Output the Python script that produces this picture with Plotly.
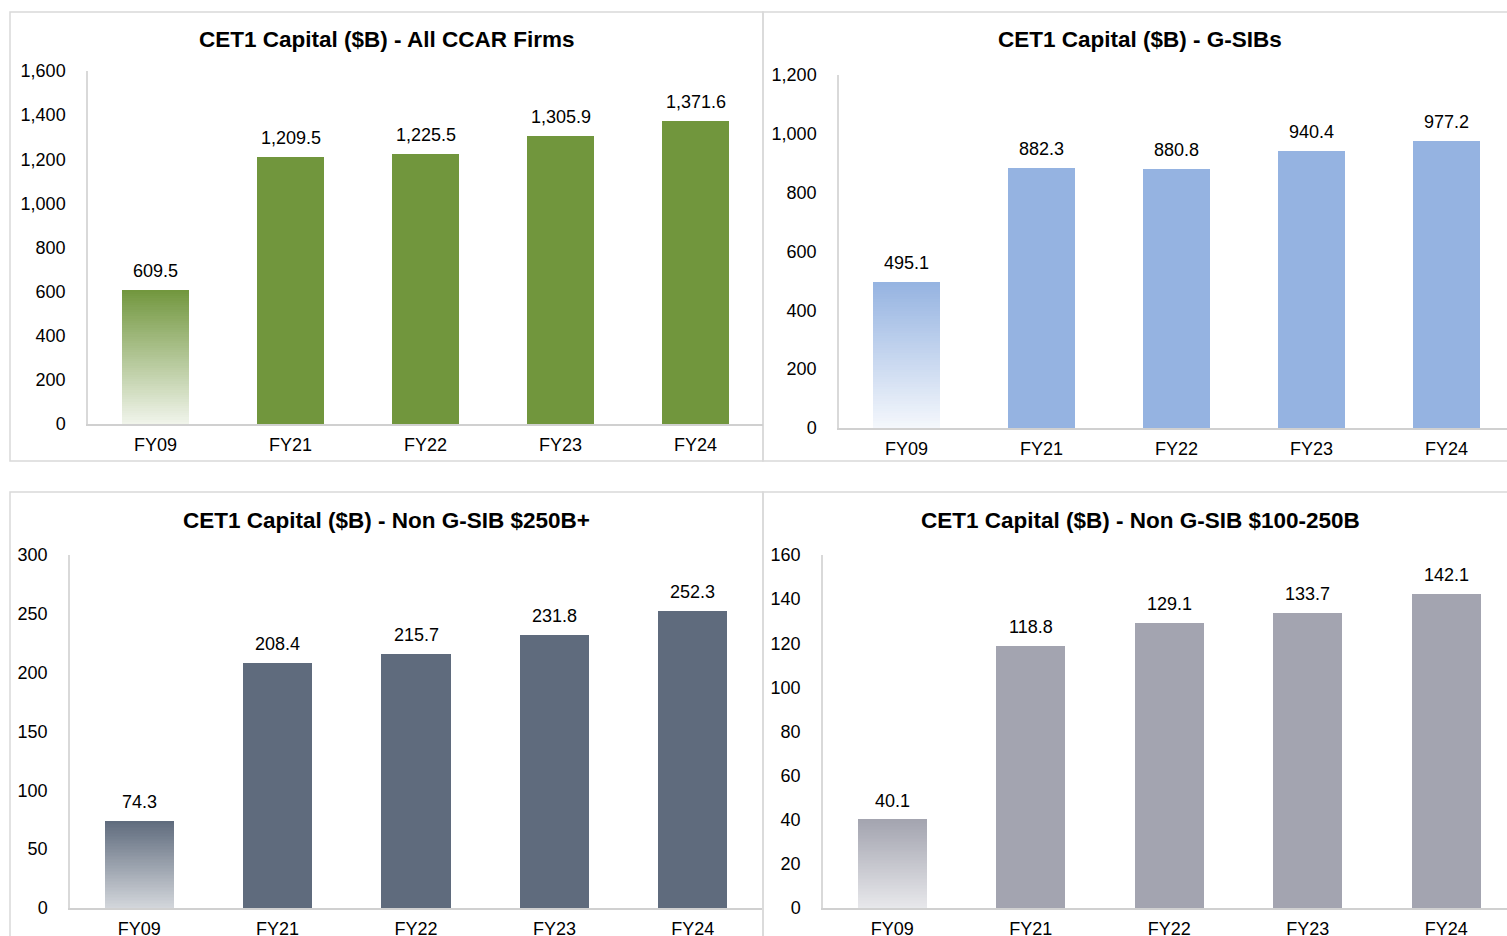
import plotly.graph_objects as go

W, H = 1507, 936

categories = ["FY09", "FY21", "FY22", "FY23", "FY24"]
all_ccar = [609.5, 1209.5, 1225.5, 1305.9, 1371.6]
gsibs = [495.1, 882.3, 880.8, 940.4, 977.2]
non_gsib_250 = [74.3, 208.4, 215.7, 231.8, 252.3]
non_gsib_100_250 = [40.1, 118.8, 129.1, 133.7, 142.1]

titles = [
    "CET1 Capital ($B) - All CCAR Firms",
    "CET1 Capital ($B) - G-SIBs",
    "CET1 Capital ($B) - Non G-SIB $250B+",
    "CET1 Capital ($B) - Non G-SIB $100-250B",
]
series = [all_ccar, gsibs, non_gsib_250, non_gsib_100_250]
y_max = [1600, 1200, 300, 160]
y_dtick = [200, 200, 50, 20]

colors = [(113, 150, 61), (149, 179, 225), (95, 107, 125), (163, 164, 176)]
bottom_mix = [0.10, 0.10, 0.27, 0.25]

# layout geometry in pixels
panels = [
    dict(left=88, right=763, top=71, bottom=424, band=135.0, box=(10, 12, 763, 461), tx=386, ty=40),
    dict(left=839, right=1507, top=75, bottom=428, band=135.0, box=(763, 12, 1520, 461), tx=1140, ty=40),
    dict(left=70, right=762, top=555, bottom=908, band=138.4, box=(10, 492, 763, 960), tx=386, ty=520),
    dict(left=823, right=1507, top=555, bottom=908, band=138.5, box=(763, 492, 1520, 960), tx=1140, ty=520),
]

FONT = "Liberation Sans, Arial, sans-serif"
N_SEG = 60


def px_x(v):
    return v / W


def px_y(v):
    return 1 - v / H


def rgb(c):
    return "rgb(%d,%d,%d)" % c


def mix(c, f):
    return tuple(round(255 - f * (255 - ch)) for ch in c)


fig = go.Figure()
annotations = []
shapes = []
layout_axes = {}

for i, (vals, p) in enumerate(zip(series, panels)):
    n = i + 1
    xa = "x" if n == 1 else "x%d" % n
    ya = "y" if n == 1 else "y%d" % n
    col = colors[i]

    # gradient first bar built from stacked slices of its value
    seg = vals[0] / N_SEG
    for k in range(N_SEG):
        t = (k + 0.5) / N_SEG  # 0 bottom -> 1 top
        f = bottom_mix[i] + (1 - bottom_mix[i]) * t
        fig.add_trace(go.Bar(
            x=[categories[0]], y=[seg], width=0.5,
            marker=dict(color=rgb(mix(col, f)), line=dict(width=0)),
            xaxis=xa, yaxis=ya, showlegend=False, hoverinfo="skip",
        ))
    # solid bars
    fig.add_trace(go.Bar(
        x=categories[1:], y=vals[1:], width=0.5,
        marker=dict(color=rgb(col), line=dict(width=0)),
        xaxis=xa, yaxis=ya, showlegend=False,
    ))

    # data labels
    for c, v in zip(categories, vals):
        annotations.append(dict(
            x=c, y=v, xref=xa, yref=ya, text=f"{v:,.1f}", showarrow=False,
            yanchor="bottom", yshift=7, font=dict(family=FONT, size=18, color="#000000"),
        ))

    # title
    annotations.append(dict(
        x=px_x(p["tx"]), y=px_y(p["ty"]), xref="paper", yref="paper",
        text="<b>%s</b>" % titles[i], showarrow=False, xanchor="center", yanchor="middle",
        font=dict(family=FONT, size=22.5, color="#000000"),
    ))

    # panel frame
    x0, y0, x1, y1 = p["box"]
    shapes.append(dict(
        type="rect", xref="paper", yref="paper",
        x0=px_x(x0), x1=px_x(x1), y0=px_y(y1), y1=px_y(y0),
        line=dict(color="#d9d9d9", width=1.5), fillcolor="rgba(0,0,0,0)", layer="below",
    ))

    xr_hi = -0.5 + (p["right"] - p["left"]) / p["band"]
    layout_axes["xaxis" if n == 1 else "xaxis%d" % n] = dict(
        domain=[px_x(p["left"]), px_x(p["right"])],
        anchor=ya, type="category", range=[-0.5, xr_hi], automargin=False,
        showline=True, linecolor="#d0d0d0", linewidth=1.5,
        showgrid=False, zeroline=False, ticks="", ticklabelstandoff=4,
        tickfont=dict(family=FONT, size=18, color="#000000"), fixedrange=True,
    )
    layout_axes["yaxis" if n == 1 else "yaxis%d" % n] = dict(
        domain=[px_y(p["bottom"]), px_y(p["top"])],
        anchor=xa, range=[0, y_max[i]], dtick=y_dtick[i], tick0=0, automargin=False,
        tickformat=",", showline=True, linecolor="#d9d9d9", linewidth=1.5,
        showgrid=False, zeroline=False, ticks="", ticklabelstandoff=17,
        tickfont=dict(family=FONT, size=18, color="#000000"), fixedrange=True,
    )

fig.update_layout(
    width=W, height=H, margin=dict(l=0, r=0, t=0, b=0, autoexpand=False),
    paper_bgcolor="white", plot_bgcolor="white",
    barmode="stack", bargap=0, showlegend=False,
    annotations=annotations, shapes=shapes,
    font=dict(family=FONT, size=18, color="#000000"),
    **layout_axes,
)

fig.write_html(
    "out.html",
    config={"displayModeBar": False},
    post_script="document.body.style.margin='0';document.body.style.overflow='hidden';",
)
